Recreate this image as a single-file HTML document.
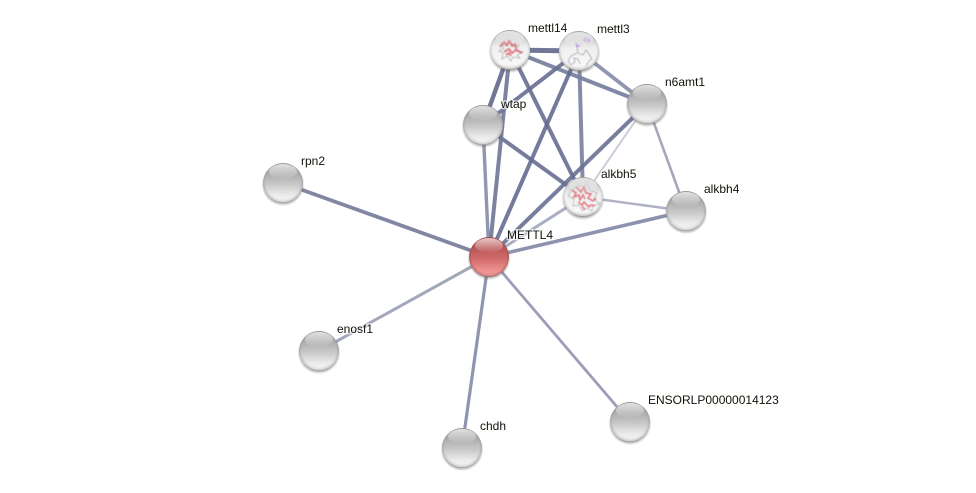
<!DOCTYPE html>
<html><head><meta charset="utf-8">
<style>
html,body{margin:0;padding:0;background:#fff;width:976px;height:493px;overflow:hidden}
svg{display:block}
text{font-family:"Liberation Sans",sans-serif;font-size:12px;fill:#111;paint-order:stroke;stroke:#fffffa;stroke-width:2.5px;stroke-opacity:.75}
</style></head><body>
<svg width="976" height="493" viewBox="0 0 976 493" xmlns="http://www.w3.org/2000/svg">
<defs>
<filter id="b" x="-20%" y="-20%" width="140%" height="140%"><feGaussianBlur stdDeviation=".35"/></filter>
<filter id="s" x="-30%" y="-30%" width="160%" height="160%"><feGaussianBlur stdDeviation=".4"/></filter>
<linearGradient id="g" x1="0" y1="0" x2="0" y2="1">
<stop offset="0" stop-color="#9c9c9c"/><stop offset=".3" stop-color="#b0b0b0"/><stop offset=".55" stop-color="#cacaca"/><stop offset=".8" stop-color="#ebebeb"/><stop offset="1" stop-color="#f6f6f6"/>
</linearGradient>
<linearGradient id="r" x1="0" y1="0" x2="0" y2="1">
<stop offset="0" stop-color="#a84444"/><stop offset=".3" stop-color="#bd5858"/><stop offset=".55" stop-color="#d26c6c"/><stop offset=".82" stop-color="#ee8e8e"/><stop offset="1" stop-color="#f5a0a0"/>
</linearGradient>
<linearGradient id="w" x1="0" y1="0" x2="0" y2="1">
<stop offset="0" stop-color="#a6a6a6"/><stop offset=".18" stop-color="#cccccc"/><stop offset=".42" stop-color="#efefef"/><stop offset=".85" stop-color="#f8f8f8"/><stop offset="1" stop-color="#e2e2e2"/>
</linearGradient>
<linearGradient id="h" x1="0" y1="0" x2="0" y2="1">
<stop offset="0" stop-color="#fff" stop-opacity=".7"/><stop offset="1" stop-color="#fff" stop-opacity="0"/>
</linearGradient>
<radialGradient id="c" cx=".5" cy=".47" r=".54">
<stop offset=".8" stop-color="#000" stop-opacity="0"/><stop offset=".93" stop-color="#000" stop-opacity=".14"/><stop offset="1" stop-color="#000" stop-opacity=".6"/>
</radialGradient>
<radialGradient id="sh" cx=".5" cy=".5" r=".5">
<stop offset=".82" stop-color="#555" stop-opacity=".55"/><stop offset="1" stop-color="#555" stop-opacity="0"/>
</radialGradient>
<g id="under"><circle cy="1.6" r="21.5" fill="url(#sh)"/></g>
<g id="gl"><circle r="20" fill="url(#c)"/><ellipse cy="-11.5" rx="14" ry="7.5" fill="url(#h)"/></g>
</defs>

<g filter="url(#b)" stroke-linecap="butt">
<g stroke-opacity=".9">
<line x1="647" y1="104" x2="583" y2="197" stroke="#c6c8d4" stroke-width="2"/>
<line x1="583" y1="197" x2="686" y2="211" stroke="#a6a9be" stroke-width="2.4"/>
<line x1="647" y1="104" x2="686" y2="211" stroke="#9b9fb5" stroke-width="2.6"/>
<line x1="489" y1="257" x2="583" y2="197" stroke="#a1a5ba" stroke-width="3"/>
<line x1="489" y1="257" x2="319" y2="351" stroke="#999db3" stroke-width="3"/>
<line x1="489" y1="257" x2="630" y2="422" stroke="#9094ae" stroke-width="2.8"/>
<line x1="489" y1="257" x2="462" y2="448" stroke="#848aa6" stroke-width="3.2"/>
<line x1="489" y1="257" x2="686" y2="211" stroke="#8187a5" stroke-width="3.6"/>
<line x1="489" y1="257" x2="283" y2="183" stroke="#737a99" stroke-width="3.8"/>
<line x1="489" y1="257" x2="483" y2="125" stroke="#858ba8" stroke-width="3.4"/>
<line x1="579" y1="51" x2="647" y2="104" stroke="#858ba8" stroke-width="3.8"/>
<line x1="510" y1="50" x2="647" y2="104" stroke="#747b9c" stroke-width="4"/>
<line x1="579" y1="51" x2="583" y2="197" stroke="#797f9f" stroke-width="4"/>
<line x1="510" y1="50" x2="583" y2="197" stroke="#686f92" stroke-width="4"/>
<line x1="483" y1="125" x2="583" y2="197" stroke="#686f92" stroke-width="4"/>
<line x1="483" y1="125" x2="579" y2="51" stroke="#686f92" stroke-width="4"/>
<line x1="483" y1="125" x2="510" y2="50" stroke="#60678a" stroke-width="4.4"/>
<line x1="510" y1="50" x2="579" y2="51" stroke="#62698c" stroke-width="5"/>
<line x1="489" y1="257" x2="510" y2="50" stroke="#6f7696" stroke-width="4"/>
<line x1="489" y1="257" x2="579" y2="51" stroke="#656c90" stroke-width="4"/>
<line x1="489" y1="257" x2="647" y2="104" stroke="#697092" stroke-width="4"/>
</g>
</g>

<g transform="translate(510,50)"><use href="#under"/><circle r="20" fill="url(#w)"/>
<g fill="none" filter="url(#s)"><path d="M-9-7l6 3 3-6 3 6 6-1-3 5 7 2-6 3 3 3-7-1-2 4-4-5-5 3 1-6-4-2 5-3z" stroke="#aaa" stroke-width=".7"/>
<path d="M-10-3l4-5 3 3 2-4 3 5 3-2 1 5M-6 2l5-3 3 4 4-3 6 3M-4 5l3-2 2 3" stroke="#d9505c" stroke-width="2" stroke-opacity=".7"/></g><use href="#gl"/></g>
<g transform="translate(579,51)"><use href="#under"/><circle r="20" fill="url(#w)"/>
<g fill="none" filter="url(#s)" stroke-width=".8"><path d="M-3-8l1 4 3-2M8-10l-3-1 1-2 4 1 1 2-3 1" stroke="#b07fd4" stroke-width="1.1"/><path d="M-2-3l1 5 5 2 3-5 3 4 3 5-3 2-3 5M-2 2l-6 3-3 5 3 4 4-3-1-4 4 1 2 5" stroke="#a8a8b0"/></g><use href="#gl"/></g>
<g transform="translate(647,104)"><use href="#under"/><circle r="20" fill="url(#g)"/><use href="#gl"/></g>
<g transform="translate(483,125)"><use href="#under"/><circle r="20" fill="url(#g)"/><use href="#gl"/></g>
<g transform="translate(283,183)"><use href="#under"/><circle r="20" fill="url(#g)"/><use href="#gl"/></g>
<g transform="translate(583,197)"><use href="#under"/><circle r="20" fill="url(#w)"/>
<g fill="none" filter="url(#s)"><path d="M-12-6l7-6 5 2 4-4 3 7 7 3-3 6 6 5-7 1-1 6-6-3-4 3-3-6-6 1 1-7-6-3z" stroke="#b0b0b0" stroke-width=".7"/>
<path d="M-11-7l4 3-2 4 5-2 1 5 3-5 2 4M-7-10l5 5 3-5 2 6 5 1-3 4 5 3 3-3M-5 5l4 3 2-3 5 5 2-2 4 1M-1 9l3 4" stroke="#dc5560" stroke-width="1.6" stroke-opacity=".75"/></g><use href="#gl"/></g>
<g transform="translate(686,211)"><use href="#under"/><circle r="20" fill="url(#g)"/><use href="#gl"/></g>
<g transform="translate(489,257)"><use href="#under"/><circle r="20" fill="url(#r)"/><use href="#gl"/></g>
<g transform="translate(319,351)"><use href="#under"/><circle r="20" fill="url(#g)"/><use href="#gl"/></g>
<g transform="translate(462,448)"><use href="#under"/><circle r="20" fill="url(#g)"/><use href="#gl"/></g>
<g transform="translate(630,422)"><use href="#under"/><circle r="20" fill="url(#g)"/><use href="#gl"/></g>

<text x="528" y="32">mettl14</text>
<text x="597" y="33">mettl3</text>
<text x="665" y="86">n6amt1</text>
<text x="501" y="108">wtap</text>
<text x="301" y="165">rpn2</text>
<text x="601" y="178">alkbh5</text>
<text x="704" y="193">alkbh4</text>
<text x="507" y="239">METTL4</text>
<text x="337" y="333">enosf1</text>
<text x="480" y="430">chdh</text>
<text x="648" y="404">ENSORLP00000014123</text>
</svg>
</body></html>
